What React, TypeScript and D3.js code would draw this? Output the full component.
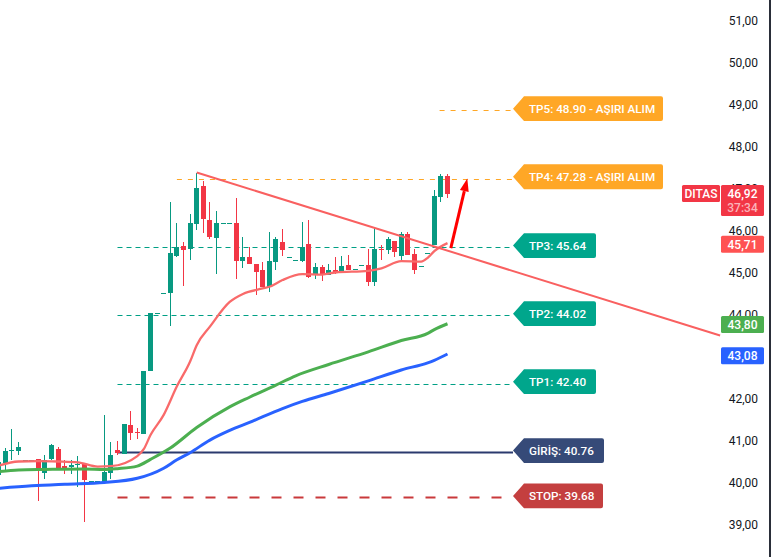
import { useEffect, useRef } from "react";
import * as d3 from "d3";

const W = 774;
const H = 557;

// candles, first one sits just off the left edge (index -1)
const opens = [
  40.18, 40.46, 40.75, 40.75, 40.54, 40.54, 40.55, 40.23, 40.56, 40.80,
  40.39, 40.37, 40.42, 40.44, 40.03, 40.03, 40.02, 40.23, 40.77, 40.68,
  41.37, 41.20, 41.15, 42.65, 44.04, 44.52, 44.52, 45.39, 45.63, 45.56,
  46.15, 47.06, 46.25, 45.82, 46.17, 46.17, 46.18, 45.27, 45.37, 45.20,
  45.06, 44.65, 45.25, 45.73, 45.36, 45.30, 45.27, 45.68, 44.96, 45.13,
  44.94, 45.06, 45.04, 45.18, 45.08, 45.17, 45.18, 44.77, 45.56, 45.54,
  45.75, 45.39, 45.92, 45.44, 45.15, 45.46, 45.65, 46.80, 47.30,
];
const highs = [
  40.55, 40.82, 41.27, 40.96, 40.54, 40.54, 40.56, 40.65, 40.91, 40.85,
  40.54, 40.54, 40.63, 40.44, 40.03, 40.03, 41.61, 40.96, 40.99, 41.39,
  41.70, 41.30, 42.65, 44.04, 44.04, 44.52, 46.67, 46.17, 45.73, 46.39,
  47.38, 47.18, 46.68, 46.46, 46.17, 46.17, 46.77, 45.85, 45.61, 45.20,
  45.25, 45.96, 45.85, 46.04, 45.36, 45.30, 46.20, 46.25, 45.23, 45.18,
  45.20, 45.37, 45.39, 45.42, 45.08, 45.17, 45.56, 46.06, 45.65, 45.85,
  45.75, 45.96, 45.96, 45.56, 45.15, 45.46, 46.96, 47.35, 47.35,
];
const lows = [
  40.10, 40.30, 40.54, 40.65, 40.54, 40.54, 39.57, 40.08, 40.54, 40.32,
  40.20, 40.20, 39.89, 39.07, 40.03, 40.03, 40.02, 40.08, 40.65, 40.68,
  41.01, 41.04, 41.15, 42.65, 44.04, 44.52, 43.73, 45.37, 44.68, 45.30,
  46.01, 45.94, 45.80, 44.96, 46.17, 46.17, 44.85, 45.11, 45.20, 44.46,
  44.65, 44.54, 45.06, 45.39, 45.36, 45.30, 45.25, 44.87, 44.85, 44.80,
  44.94, 44.96, 45.04, 45.06, 45.08, 45.17, 44.68, 44.68, 45.30, 45.44,
  45.37, 45.30, 45.42, 44.96, 45.15, 45.46, 45.65, 46.68, 46.77,
];
const closes = [
  40.50, 40.75, 40.77, 40.84, 40.54, 40.54, 40.28, 40.54, 40.89, 40.32,
  40.32, 40.42, 40.44, 40.06, 40.03, 40.03, 40.25, 40.65, 40.70, 41.39,
  41.18, 41.18, 42.65, 44.04, 44.04, 44.52, 45.46, 45.60, 45.54, 46.18,
  47.01, 46.27, 45.85, 46.18, 46.17, 46.17, 45.27, 45.37, 45.20, 45.01,
  44.65, 45.27, 45.80, 45.54, 45.36, 45.30, 45.61, 44.89, 45.13, 44.94,
  45.06, 44.99, 45.15, 45.06, 45.08, 45.17, 44.77, 45.56, 45.54, 45.80,
  45.49, 45.92, 45.42, 45.06, 45.15, 45.46, 46.82, 47.30, 46.87,
];

// moving averages, read at the candle index in the matching array
const redIdx = [-1, 2, 5, 8, 11, 14, 16, 20, 21, 22, 24, 26, 28, 29, 31, 34, 36, 39, 40, 42, 45, 48, 50, 55, 57, 60, 63, 64, 65, 67];
const redMa = [40.40, 40.50, 40.51, 40.50, 40.48, 40.38, 40.39, 40.63, 40.80, 41.13, 41.61, 42.29, 42.88, 43.27, 43.71, 44.30, 44.49, 44.62, 44.66, 44.82, 44.96, 44.95, 45.00, 45.04, 45.10, 45.27, 45.26, 45.35, 45.51, 45.70];
const greenIdx = [-1, 2, 6, 12, 15, 17, 20, 22, 25, 29, 34, 37, 41, 44, 49, 55, 60, 64, 65, 67];
const greenMa = [40.26, 40.30, 40.31, 40.32, 40.31, 40.33, 40.39, 40.55, 40.82, 41.31, 41.80, 42.03, 42.32, 42.54, 42.81, 43.11, 43.38, 43.55, 43.64, 43.78];
const blueIdx = [-1, 4, 9, 15, 20, 24, 26, 28, 31, 34, 37, 42, 45, 49, 55, 60, 64, 65, 67];
const blueMa = [39.86, 39.92, 39.96, 40.00, 40.10, 40.34, 40.54, 40.71, 41.01, 41.24, 41.43, 41.76, 41.93, 42.12, 42.42, 42.68, 42.85, 42.91, 43.06];

// trend line and the arrow
const trendIdx = [29, 108.3];
const trendPrice = [47.38, 43.5];
const arrowIdx = [67.5, 70];
const arrowPrice = [45.58, 47.24];

// target levels
const levelNames = ["TP5: 48.90 - AŞIRI ALIM", "TP4: 47.28 - AŞIRI ALIM", "TP3: 45.64", "TP2: 44.02", "TP1: 42.40", "GİRİŞ: 40.76", "STOP: 39.68"];
const levelValues = [48.9, 47.28, 45.64, 44.02, 42.4, 40.76, 39.68];
const levelLines = [48.87, 47.22, 45.6, 43.99, 42.35, 40.73, 39.65];
const levelStart = [65.8, 26, 17, 17, 17, 17, 17];
const levelColors = ["#ffa726", "#ffa726", "#00a68c", "#00a68c", "#00a68c", "#364a78", "#c43f3f"];
const lineColors = ["#ffa726", "#ffa726", "#00a085", "#00a085", "#00a085", "#2b3a6e", "#c9393b"];
const labelWidths = [142, 142, 75, 75, 75, 83, 82];

const tickValues = [39, 40, 41, 42, 44, 45, 46, 47, 48, 49, 50, 51];

// price tags on the axis
const tagTexts = ["45,71", "43,80", "43,08"];
const tagPrices = [45.67, 43.76, 43.02];
const tagColors = ["#ff5252", "#4caf50", "#2962ff"];

const FONT = "Roboto, sans-serif";

const App = () => {
  const svgRef = useRef<SVGSVGElement>(null);

  useEffect(() => {
    const svg = d3.select(svgRef.current);
    svg.selectAll("*").remove();

    const x = d3.scaleLinear().domain([-1, 67]).range([-1.3, 447.5]);
    const y = d3.scaleLinear().domain([39, 51]).range([524.5, 20.5]);

    // level lines
    levelLines.forEach((v, i) => {
      const solid = i === 5;
      const thick = i >= 5;
      const ly = Math.round(y(v)) + 0.5;
      svg
        .append("line")
        .attr("x1", x(levelStart[i]))
        .attr("x2", 513)
        .attr("y1", ly)
        .attr("y2", ly)
        .attr("stroke", lineColors[i])
        .attr("stroke-width", thick ? 2 : 1.2)
        .attr("stroke-dasharray", solid ? null : thick ? "10 12" : i < 2 ? "5 6" : "5 4");
    });

    // candles
    const candles = svg.append("g").attr("shape-rendering", "crispEdges");
    opens.forEach((o, k) => {
      const c = closes[k];
      const color = c >= o ? "#089981" : "#f23645";
      const left = Math.round(x(k - 1) - 2.5);
      const top = y(Math.max(o, c));
      const bottom = y(Math.min(o, c));
      candles
        .append("rect")
        .attr("x", left + 2)
        .attr("width", 1)
        .attr("y", y(highs[k]))
        .attr("height", Math.max(1, y(lows[k]) - y(highs[k])))
        .attr("fill", color);
      candles
        .append("rect")
        .attr("x", left)
        .attr("width", 5)
        .attr("y", top)
        .attr("height", Math.max(1, bottom - top))
        .attr("fill", color);
    });

    // moving averages
    const drawLine = (idx: number[], vals: number[], color: string, width: number, curve: d3.CurveFactory) => {
      const line = d3
        .line<number>()
        .curve(curve)
        .x((d) => x(d))
        .y((_, i) => y(vals[i]));
      svg
        .append("path")
        .attr("d", line(idx))
        .attr("fill", "none")
        .attr("stroke", color)
        .attr("stroke-width", width)
        .attr("stroke-linejoin", "round");
    };
    drawLine(redIdx, redMa, "#f96a6a", 2.3, d3.curveMonotoneX);
    drawLine(greenIdx, greenMa, "#4caf50", 3, d3.curveMonotoneX);
    drawLine(blueIdx, blueMa, "#2962ff", 3, d3.curveMonotoneX);
    drawLine(trendIdx, trendPrice, "#f96060", 2, d3.curveLinear);

    // arrow
    const ax0 = x(arrowIdx[0]);
    const ay0 = y(arrowPrice[0]);
    const ax1 = x(arrowIdx[1]);
    const ay1 = y(arrowPrice[1]);
    const ang = Math.atan2(ay1 - ay0, ax1 - ax0);
    const bx = ax1 - 13 * Math.cos(ang);
    const by = ay1 - 13 * Math.sin(ang);
    svg
      .append("line")
      .attr("x1", ax0)
      .attr("y1", ay0)
      .attr("x2", bx)
      .attr("y2", by)
      .attr("stroke", "#ff0000")
      .attr("stroke-width", 3);
    svg
      .append("polygon")
      .attr(
        "points",
        [
          [ax1, ay1],
          [bx + 4.5 * Math.sin(ang), by - 4.5 * Math.cos(ang)],
          [bx - 4.5 * Math.sin(ang), by + 4.5 * Math.cos(ang)],
        ].join(" ")
      )
      .attr("fill", "#ff0000");

    // level labels with the pointer on the left
    levelValues.forEach((v, i) => {
      const cy = y(v);
      const w = labelWidths[i];
      const h = 12.4;
      const path = d3.path();
      path.moveTo(513, cy);
      path.lineTo(521, cy - 9);
      path.lineTo(524, cy - h);
      path.lineTo(521 + w - 2, cy - h);
      path.quadraticCurveTo(521 + w, cy - h, 521 + w, cy - h + 2);
      path.lineTo(521 + w, cy + h - 2);
      path.quadraticCurveTo(521 + w, cy + h, 521 + w - 2, cy + h);
      path.lineTo(524, cy + h);
      path.lineTo(521, cy + 9);
      path.closePath();
      svg.append("path").attr("d", path.toString()).attr("fill", levelColors[i]);
      svg
        .append("text")
        .attr("x", 529)
        .attr("y", cy)
        .attr("dy", "0.35em")
        .attr("fill", "#fff")
        .attr("font-family", FONT)
        .attr("font-size", 11.7)
        .attr("font-weight", 500)
        .text(levelNames[i]);
    });

    // price axis
    const axis = d3
      .axisRight(y)
      .tickValues(tickValues)
      .tickSize(0)
      .tickPadding(0)
      .tickFormat((d) => (d as number).toFixed(2).replace(".", ","));
    const axisG = svg.append("g").attr("transform", "translate(758,0)").call(axis);
    axisG.select(".domain").remove();
    axisG
      .selectAll("text")
      .attr("text-anchor", "end")
      .attr("fill", "#131722")
      .attr("font-family", FONT)
      .attr("font-size", 12);

    svg
      .append("line")
      .attr("x1", 770)
      .attr("x2", 770)
      .attr("y1", 0)
      .attr("y2", H)
      .attr("stroke", "#2a2e39")
      .attr("stroke-width", 2);

    // tags on the axis
    const tagText = (tx: number, ty: number, label: string, fill: string) =>
      svg
        .append("text")
        .attr("x", tx)
        .attr("y", ty)
        .attr("dy", "0.35em")
        .attr("text-anchor", "middle")
        .attr("fill", fill)
        .attr("font-family", FONT)
        .attr("font-size", 12)
        .attr("font-weight", 500)
        .text(label);

    tagTexts.forEach((t, i) => {
      const cy = y(tagPrices[i]);
      svg
        .append("rect")
        .attr("x", 721)
        .attr("y", cy - 8.5)
        .attr("width", 43)
        .attr("height", 17)
        .attr("rx", 1.5)
        .attr("fill", tagColors[i]);
      tagText(742.5, cy, t, "#fff");
    });

    const lastY = y(46.88);
    svg.append("rect").attr("x", 682).attr("y", lastY - 8.5).attr("width", 38).attr("height", 17).attr("rx", 1.5).attr("fill", "#f23645");
    tagText(701, lastY, "DITAS", "#fff");
    svg.append("rect").attr("x", 721).attr("y", lastY - 8.5).attr("width", 43).attr("height", 31).attr("rx", 1.5).attr("fill", "#f23645");
    tagText(742.5, lastY, "46,92", "#fff");
    tagText(742.5, lastY + 14, "37:34", "#fbb4ba");
  }, []);

  return <svg ref={svgRef} width={W} height={H} style={{ position: "absolute", left: 0, top: 0, background: "#fff" }} />;
};

export default App;
